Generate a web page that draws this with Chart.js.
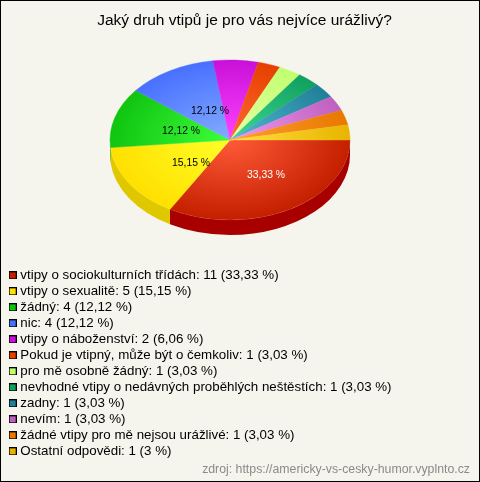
<!DOCTYPE html>
<html><head><meta charset="utf-8">
<script src="https://cdn.jsdelivr.net/npm/chart.js@4"></script>
<style>
html,body{margin:0;padding:0;background:#f5f5ee}
#w{position:absolute;left:0;top:0;width:478px;height:480px;border:1px solid #000;background:#f5f5ee}
canvas{display:block}
</style></head><body><div id="w"><canvas id="c" width="478" height="480"></canvas></div>
<script>
const categories=["vtipy o sociokulturních třídách","vtipy o sexualitě","žádný","nic","vtipy o náboženství","Pokud je vtipný, může být o čemkoliv","pro mě osobně žádný","nevhodné vtipy o nedávných proběhlých neštěstích","zadny","nevím","žádné vtipy pro mě nejsou urážlivé","Ostatní odpovědi"];
const counts=[11,5,4,4,2,1,1,1,1,1,1,1];
const percentLabels=["33,33 %","15,15 %","12,12 %","12,12 %","6,06 %","3,03 %","3,03 %","3,03 %","3,03 %","3,03 %","3,03 %","3 %"];
const edgeColors=["#c42000","#ffe000","#10c410","#4870ff","#c810d8","#e64000","#c0ff70","#10a060","#208098","#c060c0","#e87800","#e8b400"];
const innerColors=["#ff5a38","#ffff28","#3cff3c","#84acff","#ff44ff","#ff6a30","#e8ffa8","#40d890","#50b8d0","#f098f0","#ffa030","#ffe040"];
const sideColors=["#a80000","#e0c800","#0ca00c","#3050d0","#a000b0","#c03000","#a0d850","#088048","#106078","#a040a0","#c06000","#c09000"];
const sliceTexts=[["33,33 %","#fff",36,35],["15,15 %","#000",-39,23],["12,12 %","#000",-49,-9],["12,12 %","#000",-20,-29]];

const PIE={x:229,y:139,r:120,squash:80/120,depth:15};
function swatch(col){const s=document.createElement('canvas');s.width=8;s.height=8;const g=s.getContext('2d');g.fillStyle='#000';g.fillRect(0,0,8,8);g.fillStyle=col;g.fillRect(1,1,6,6);return s;}
const swatches=edgeColors.map(swatch);

const pie3d={id:'pie3d',
 afterLayout(chart){const l=chart.legend;l.left=8;l.right=470;l.top=265;l.bottom=480;},
 beforeDatasetDraw(chart){
  const ctx=chart.ctx,a=chart.chartArea,cx=(a.left+a.right)/2,cy=(a.top+a.bottom)/2;
  ctx.save();
  ctx.translate(PIE.x,PIE.y);ctx.scale(1,PIE.squash);ctx.translate(-cx,-cy);
  const d=PIE.depth/PIE.squash;
  chart.getDatasetMeta(0).data.forEach((el,i)=>{
    const a0=Math.max(el.startAngle,0),a1=Math.min(el.endAngle,Math.PI);
    if(a1<=a0)return;
    ctx.beginPath();
    ctx.arc(el.x,el.y+d,el.outerRadius,a0,a1);
    ctx.arc(el.x,el.y,el.outerRadius,a1,a0,true);
    ctx.closePath();
    ctx.fillStyle=sideColors[i];ctx.fill();
  });
 },
 afterDatasetDraw(chart){chart.ctx.restore();},
 afterDatasetsDraw(chart){
  const ctx=chart.ctx;ctx.save();
  ctx.font='10.4px "Liberation Sans"';ctx.textAlign='center';ctx.textBaseline='middle';
  sliceTexts.forEach(t=>{ctx.fillStyle=t[1];ctx.fillText(t[0],PIE.x+t[2],PIE.y+t[3]);});
  ctx.restore();
 }
};
function fillFor(c){
 const a=c.chart.chartArea;if(!a)return edgeColors[c.dataIndex];
 const cx=(a.left+a.right)/2,cy=(a.top+a.bottom)/2;
 const g=c.chart.ctx.createRadialGradient(cx,cy,0,cx,cy,PIE.r);
 g.addColorStop(0,innerColors[c.dataIndex]);g.addColorStop(1,edgeColors[c.dataIndex]);
 return g;
}
new Chart(document.getElementById('c'),{
 type:'pie',
 data:{labels:categories,datasets:[{data:counts,backgroundColor:fillFor,borderColor:fillFor,borderWidth:0.5,borderJoinStyle:'miter',clip:false,radius:PIE.r,hoverOffset:0}]},
 options:{responsive:false,animation:false,rotation:90,
  layout:{padding:{left:18,right:9,top:0,bottom:0}},
  plugins:{
   tooltip:{enabled:false},
   title:{display:true,text:"Jaký druh vtipů je pro vás nejvíce urážlivý?",color:'#000',font:{family:'"Liberation Sans"',size:15.5,weight:'normal'},padding:{top:10,bottom:21}},
   subtitle:{display:true,position:'bottom',align:'end',text:"zdroj: https://americky-vs-cesky-humor.vyplnto.cz",color:'#8a8a8a',font:{family:'"Liberation Sans"',size:12.3,weight:'normal'},padding:{top:0,bottom:4}},
   legend:{display:true,position:'chartArea',align:'start',
    labels:{font:{family:'"Liberation Sans"',size:13.33,lineHeight:1},color:'#000',padding:2.67,usePointStyle:true,pointStyleWidth:2,boxHeight:8,
     generateLabels(chart){return categories.map((n,i)=>({text:n+": "+counts[i]+" ("+percentLabels[i]+")",pointStyle:swatches[i],fillStyle:edgeColors[i],strokeStyle:'#000',lineWidth:1,hidden:false,index:i,fontColor:'#000'}));}
    }}
  }},
 plugins:[pie3d]
});
</script></body></html>
